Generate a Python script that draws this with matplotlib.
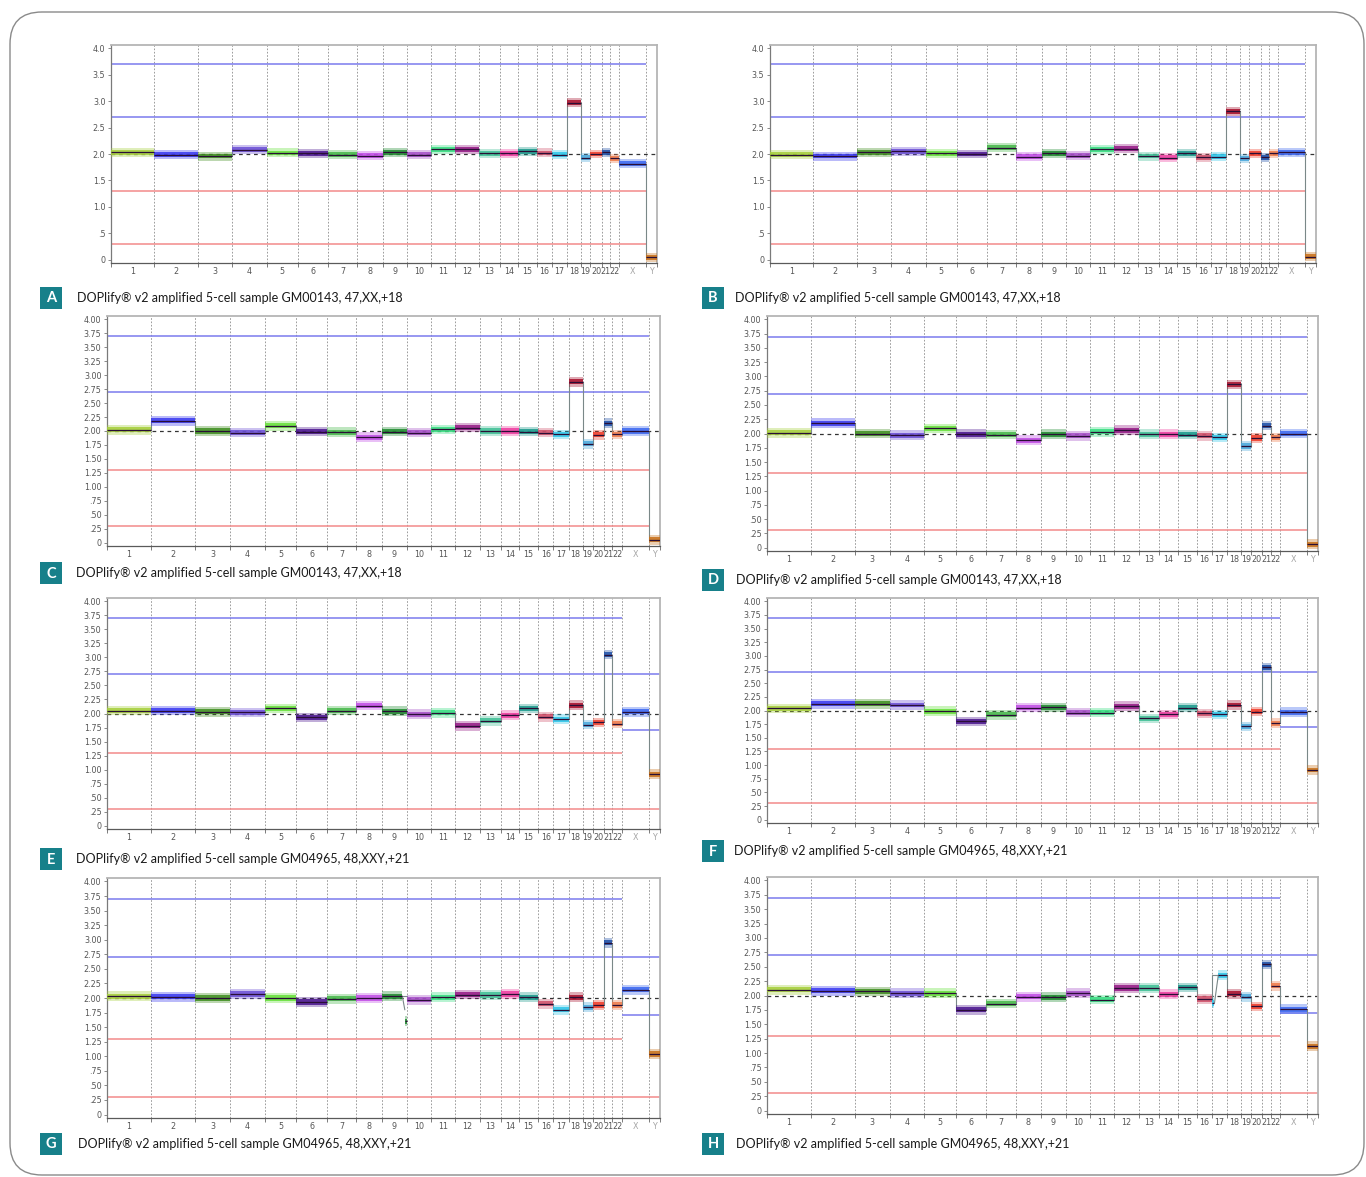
import matplotlib
matplotlib.use("Agg")
import matplotlib.pyplot as plt
import matplotlib.patches as patches
import numpy as np

W, H = 1366, 1177

# chromosome layout (bins per chromosome)
CHROMS = [str(i) for i in range(1, 23)] + ["X", "Y"]
BIN_WIDTH = [115, 117, 91, 91, 83, 80, 78, 68, 64, 65, 63, 64,
             55, 48, 50, 40, 40, 37, 26, 30, 22, 25, 72, 28]
CHROM_COLORS = ["#a6cf3a", "#3a3af0", "#3f8f1f", "#6b4fd6", "#66e03a", "#4b1590",
                "#46b84a", "#c24de6", "#1e8a2e", "#a64fc8", "#36dd80", "#951a86",
                "#3fbf95", "#ee3ca0", "#1a9a8c", "#d0506a", "#2fc6ea", "#a8102c",
                "#4aa8dc", "#f03c2a", "#1d4fa8", "#ef7a4a", "#3a66f0", "#c8701a"]

# copy number per chromosome, one list per panel
cn_a = [2.03, 1.99, 1.96, 2.08, 2.02, 2.01, 1.99, 1.97, 2.03, 1.99, 2.09, 2.09,
        2.01, 2.01, 2.05, 2.02, 1.99, 2.97, 1.93, 2.00, 2.03, 1.92, 1.82, 0.05]
cn_b = [1.99, 1.96, 2.03, 2.05, 2.01, 2.00, 2.12, 1.95, 2.01, 1.97, 2.09, 2.10,
        1.96, 1.93, 2.01, 1.94, 1.95, 2.81, 1.92, 2.01, 1.94, 2.01, 2.03, 0.06]
cn_c = [2.02, 2.18, 2.00, 1.97, 2.09, 1.99, 1.98, 1.89, 1.99, 1.97, 2.03, 2.06,
        2.00, 2.00, 1.99, 1.97, 1.94, 2.88, 1.77, 1.93, 2.14, 1.94, 2.00, 0.05]
cn_d = [2.01, 2.18, 2.00, 1.97, 2.09, 1.99, 1.98, 1.88, 1.99, 1.96, 2.03, 2.06,
        1.99, 1.99, 1.98, 1.96, 1.93, 2.86, 1.78, 1.92, 2.14, 1.93, 2.00, 0.06]
cn_e = [2.05, 2.05, 2.03, 2.02, 2.09, 1.93, 2.05, 2.14, 2.04, 1.99, 2.01, 1.78,
        1.87, 1.97, 2.09, 1.94, 1.90, 2.15, 1.80, 1.84, 3.05, 1.82, 2.03, 0.92]
cn_f = [2.04, 2.12, 2.12, 2.10, 1.99, 1.80, 1.92, 2.05, 2.06, 1.96, 1.96, 2.08,
        1.86, 1.93, 2.05, 1.95, 1.93, 2.10, 1.71, 1.98, 2.79, 1.77, 1.97, 0.91]
cn_g = [2.03, 2.02, 2.00, 2.07, 2.00, 1.93, 1.99, 2.00, 2.03, 1.97, 2.01, 2.06,
        2.05, 2.07, 2.01, 1.90, 1.80, 2.01, 1.84, 1.88, 2.95, 1.88, 2.14, 1.04]
cn_h = [2.10, 2.08, 2.07, 2.04, 2.04, 1.75, 1.86, 1.98, 1.97, 2.04, 1.93, 2.13,
        2.13, 2.02, 2.14, 1.94, 2.35, 2.03, 1.98, 1.81, 2.54, 2.17, 1.76, 1.12]

# partial segments: (chromosome index, start fraction, end fraction, copy number)
g_chr9_tail = (8, 0.92, 1.00, 1.60)
h_chr17_head = (16, 0.00, 0.18, 1.87)

letters = ["A", "B", "C", "D", "E", "F", "G", "H"]
panel_cn = [cn_a, cn_b, cn_c, cn_d, cn_e, cn_f, cn_g, cn_h]
panel_sub = [None, None, None, None, None, None, g_chr9_tail, h_chr17_head]
captions = ["DOPlify\u00ae v2 amplified 5-cell sample GM00143, 47,XX,+18"] * 4 + \
           ["DOPlify\u00ae v2 amplified 5-cell sample GM04965, 48,XXY,+21"] * 4
male = [False] * 4 + [True] * 4
fine_ticks = [False, False] + [True] * 6

# axes boxes in pixels: left, top, right, bottom
boxes = [(111, 45, 657, 263), (770, 45, 1316, 263),
         (107, 316, 660, 546), (767, 316, 1318, 551),
         (107, 598, 660, 829), (767, 598, 1318, 823),
         (107, 878, 660, 1118), (767, 877, 1318, 1114)]
# badge top-left in pixels
badges = [(40, 287), (702, 287), (40, 562), (702, 569),
          (40, 848), (702, 840), (40, 1133), (702, 1133)]
caption_x = [77, 735, 76, 736, 76, 734, 78, 736]

TEAL = "#17808a"
BLUE_THR = "#7b7bee"
RED_THR = "#f28a8a"
STEP = "#7a8888"

fig = plt.figure(figsize=(W / 100, H / 100), dpi=100)
fig.patch.set_facecolor("white")

bg = fig.add_axes([0, 0, 1, 1])
bg.set_xlim(0, W)
bg.set_ylim(H, 0)
bg.axis("off")
bg.add_patch(patches.FancyBboxPatch((10, 12), 1354, 1163,
                                    boxstyle="round,pad=0,rounding_size=32",
                                    facecolor="none", edgecolor="#8a8a8a", lw=1.0))

edges = np.concatenate([[0], np.cumsum(BIN_WIDTH)])
centers = (edges[:-1] + edges[1:]) / 2
x_start = edges[22]
y_start = edges[23]


def draw_band(ax, x0, x1, v, color):
    ax.fill_between([x0, x1], v - 0.085, v + 0.085, color=color, alpha=0.35, lw=0, zorder=3)
    ax.fill_between([x0, x1], v - 0.045, v + 0.045, color=color, alpha=0.85, lw=0, zorder=3)
    ax.hlines(v, x0, x1, color="#2a0f36", lw=0.9, zorder=5)


for k in range(8):
    l, t, r, b = boxes[k]
    ax = fig.add_axes([l / W, 1 - b / H, (r - l) / W, (b - t) / H])
    cn = panel_cn[k]
    ax.set_xlim(0, edges[-1])
    ax.set_ylim(-0.06, 4.06)

    # chromosome boundaries
    for e in edges[1:-1]:
        ax.axvline(e, color="#8c8c8c", lw=0.6, ls=(0, (2, 2)), zorder=1)

    # thresholds
    ax.axhline(2.0, color="#333333", lw=0.9, ls=(0, (3, 3)), zorder=2)
    if male[k]:
        ax.hlines([3.7, 1.3], 0, x_start, colors=[BLUE_THR, RED_THR], lw=1.1, zorder=2)
        ax.hlines([2.7, 0.3], 0, edges[-1], colors=[BLUE_THR, RED_THR], lw=1.1, zorder=2)
        ax.hlines(1.7, x_start, edges[-1], colors=BLUE_THR, lw=1.1, zorder=2)
    else:
        ax.hlines([3.7, 2.7], 0, y_start, colors=BLUE_THR, lw=1.1, zorder=2)
        ax.hlines([1.3, 0.3], 0, y_start, colors=RED_THR, lw=1.1, zorder=2)

    # segment step line and per-chromosome bands
    ax.stairs(cn, edges, baseline=None, color=STEP, lw=0.8, zorder=2.5)
    sub = panel_sub[k]
    for i, v in enumerate(cn):
        x0, x1 = edges[i], edges[i + 1]
        c = CHROM_COLORS[i]
        if sub is not None and sub[0] == i:
            sx0 = x0 + sub[1] * (x1 - x0)
            sx1 = x0 + sub[2] * (x1 - x0)
            ramp = 0.25 * (x1 - x0)
            if sub[1] > 0:
                draw_band(ax, x0, sx0 - 0.4 * ramp, v, c)
                ax.plot([sx0 - 0.4 * ramp, sx0], [v, sub[3] + 0.2], color=STEP, lw=0.8, zorder=4)
                draw_band(ax, sx0, sx1, sub[3], c)
            else:
                draw_band(ax, sx0, sx1, sub[3], c)
                ax.plot([sx1, sx1 + ramp], [sub[3], v], color=STEP, lw=0.8, zorder=4)
                draw_band(ax, sx1 + ramp, x1, v, c)
        else:
            draw_band(ax, x0, x1, v, c)

    # axes styling
    for side in ["top", "right"]:
        ax.spines[side].set_color("#b5b5b5")
        ax.spines[side].set_linewidth(1.3)
    ax.spines["left"].set_color("#7a7a7a")
    ax.spines["bottom"].set_color("#5a5a5a")
    ax.spines["left"].set_linewidth(0.9)
    ax.spines["bottom"].set_linewidth(0.9)

    if fine_ticks[k]:
        yt = np.arange(0, 4.01, 0.25)
        ylab = ["0"] + [("%.2f" % v)[1:] if v < 1 else "%.2f" % v for v in yt[1:]]
    else:
        yt = np.arange(0, 4.01, 0.5)
        ylab = ["0"] + [("%.1f" % v)[1:] if v < 1 else "%.1f" % v for v in yt[1:]]
    ax.set_yticks(yt)
    ax.set_yticklabels(ylab, fontsize=5.8, color="#555555")
    ax.tick_params(axis="y", length=2.5, width=0.6, color="#777777", pad=1.5)

    ax.set_xticks(edges)
    ax.set_xticklabels([])
    ax.tick_params(axis="x", which="major", length=3, width=0.6, color="#666666")
    ax.set_xticks(centers, minor=True)
    ax.set_xticklabels(CHROMS, minor=True, fontsize=5.8, color="#555555")
    ax.tick_params(axis="x", which="minor", length=0, pad=3)
    for lab in ax.get_xticklabels(minor=True)[-2:]:
        lab.set_color("#a5a5a5")

    # panel badge and caption
    bx, by = badges[k]
    bg.add_patch(patches.Rectangle((bx, by), 22, 22, facecolor=TEAL, edgecolor="none"))
    bg.text(bx + 11, by + 11.5, letters[k], color="white", fontsize=10.5,
            fontweight="bold", family="Lato", ha="center", va="center")
    bg.text(caption_x[k], by + 11, captions[k], color="#1a1a1a", fontsize=9,
            family="Lato", ha="left", va="center")

fig.savefig("out.png", dpi=100, facecolor="white")
